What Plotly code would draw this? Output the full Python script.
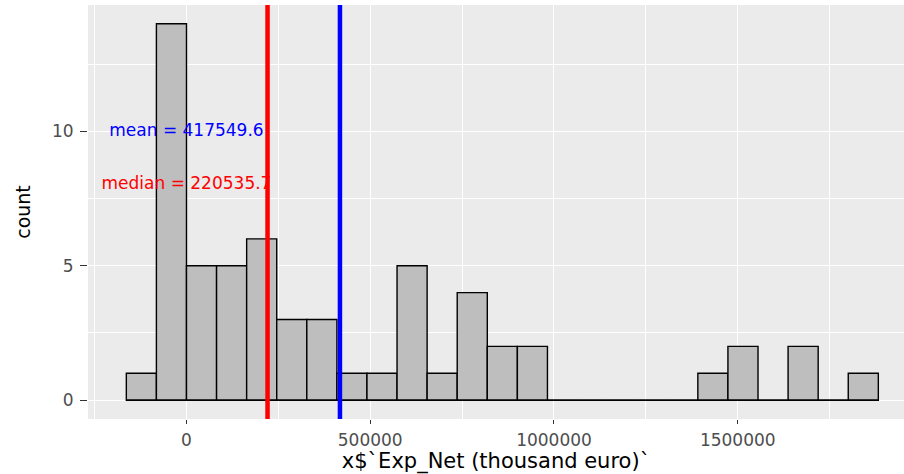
import plotly.graph_objects as go

# Histogram of net expenditure (thousand euro): 25 equal-width bins
first_edge = -163700
bin_width = 81850
counts = [1, 14, 5, 5, 6, 3, 3, 1, 1, 5, 1, 4, 2, 2,
          0, 0, 0, 0, 0, 1, 2, 0, 2, 0, 1]

mean_value = 417549.6
median_value = 220535.7

x_ticks = [0, 500000, 1000000, 1500000]
x_tick_text = ["0", "500000", "1000000", "1500000"]
y_ticks = [0, 5, 10]
y_tick_text = ["0", "5", "10"]

bin_edges = [first_edge + i * bin_width for i in range(len(counts) + 1)]
bin_centers = [e + bin_width / 2 for e in bin_edges[:-1]]

FONT = "DejaVu Sans"

fig = go.Figure()

# bars with count 0 still show as a flat outline along the baseline
fig.add_trace(go.Scatter(
    x=[bin_edges[0], bin_edges[-1]], y=[0, 0], mode="lines",
    line=dict(color="black", width=1.4), hoverinfo="skip", showlegend=False,
))

fig.add_trace(go.Bar(
    x=bin_centers, y=counts, width=bin_width,
    marker=dict(color="#BEBEBE", line=dict(color="black", width=1.4)),
    showlegend=False,
))

fig.add_trace(go.Scatter(
    x=[0], y=[10], mode="text", text=[f"mean = {mean_value}"],
    textposition="middle center",
    textfont=dict(family=FONT, size=17, color="blue"),
    hoverinfo="skip", showlegend=False,
))
fig.add_trace(go.Scatter(
    x=[0], y=[8], mode="text", text=[f"median = {median_value}"],
    textposition="middle center",
    textfont=dict(family=FONT, size=17, color="red"),
    hoverinfo="skip", showlegend=False,
))

# reference lines for median and mean, spanning the whole panel
fig.add_shape(type="line", xref="x", yref="paper", x0=median_value, x1=median_value,
              y0=0, y1=1, line=dict(color="red", width=4.5), layer="above")
fig.add_shape(type="line", xref="x", yref="paper", x0=mean_value, x1=mean_value,
              y0=0, y1=1, line=dict(color="blue", width=4.5), layer="above")

fig.update_layout(
    width=904, height=474,
    margin=dict(l=88, r=0, t=5, b=55),
    paper_bgcolor="white", plot_bgcolor="#EBEBEB",
    font=dict(family=FONT, color="black"),
    hovermode=False,
)

fig.update_xaxes(
    range=[-268000, 1952400],
    tickmode="array", tickvals=x_ticks, ticktext=x_tick_text,
    ticks="outside", ticklen=4, tickwidth=1, tickcolor="#333333",
    tickfont=dict(family=FONT, size=17, color="#4D4D4D"),
    ticklabelstandoff=2,
    showgrid=True, gridcolor="white", gridwidth=1.2,
    minor=dict(tickvals=[-250000, 250000, 750000, 1250000, 1750000],
               showgrid=True, gridcolor="white", gridwidth=0.8, ticks=""),
    zeroline=False, showline=False,
    title=dict(text="x$`Exp_Net (thousand euro)`",
               font=dict(family=FONT, size=21, color="black"), standoff=4),
)

fig.update_yaxes(
    range=[-0.7, 14.7],
    tickmode="array", tickvals=y_ticks, ticktext=y_tick_text,
    ticks="outside", ticklen=7, tickwidth=1, tickcolor="#333333",
    tickfont=dict(family=FONT, size=17, color="#4D4D4D"),
    ticklabelstandoff=3,
    showgrid=True, gridcolor="white", gridwidth=1.2,
    minor=dict(tickvals=[2.5, 7.5, 12.5],
               showgrid=True, gridcolor="white", gridwidth=0.8, ticks=""),
    zeroline=False, showline=False,
    title=dict(text="count", font=dict(family=FONT, size=19, color="black"),
               standoff=16),
)

fig.write_html("out.html", config={"displayModeBar": False})
